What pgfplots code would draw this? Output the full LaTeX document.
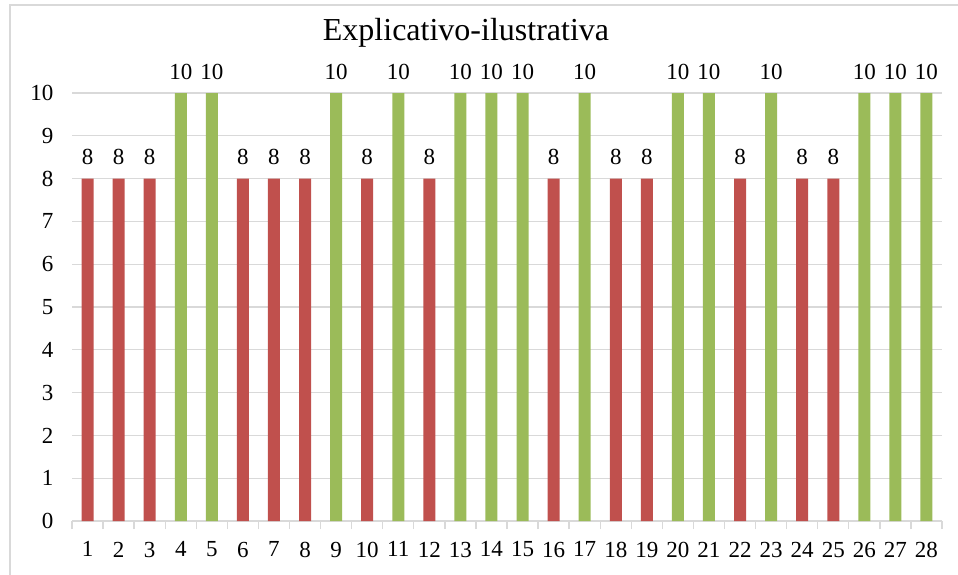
\documentclass[border=0pt]{standalone}
\usepackage{pgfplots}
\pgfplotsset{compat=1.18}
\usepackage{fontspec}
\setmainfont{Liberation Serif}
\definecolor{barred}{HTML}{C0504D}
\definecolor{bargreen}{HTML}{9BBB59}
\definecolor{gridgray}{HTML}{D9D9D9}
\begin{document}
\begin{tikzpicture}
\useasboundingbox (0,0) rectangle (958pt,-575pt);
\draw[gridgray, line width=1.3pt] (10pt,-575pt) -- (10pt,-5pt) -- (958pt,-5pt);
\node[anchor=base, font=\fontsize{32}{36}\selectfont] at (466pt,-41pt) {Explicativo-ilustrativa};
\begin{axis}[
  at={(72pt,-521pt)}, anchor=south west,
  scale only axis, width=870pt, height=428pt,
  xmin=0.5, xmax=28.5, ymin=0, ymax=10,
  ybar, bar width=12pt, bar shift=0pt,
  clip=false,
  axis y line*=left,
  y axis line style={draw=none},
  axis x line*=bottom,
  x axis line style={draw=gridgray, line width=1.3pt, -},
  ytick={0,...,10},
  major y tick style={draw=none},
  xtick={1,...,28},
  minor xtick={0.5,1.5,...,28.5},
  major x tick style={draw=none},
  minor x tick style={draw=gridgray, line width=1.3pt},
  minor tick length=8pt,
  xtick align=outside,
  ymajorgrids,
  major grid style={draw=gridgray, line width=1.3pt},
  tick label style={font=\fontsize{23}{27}\selectfont},
  /pgf/number format/assume math mode=true,
  yticklabel style={anchor=east, xshift=-15pt},
  xticklabel style={anchor=north, yshift=-13pt},
  nodes near coords,
  every node near coord/.append style={font=\fontsize{23}{27}\selectfont, yshift=10pt, black},
]
\addplot[fill=barred, draw=none] coordinates {
(1,8) (2,8) (3,8) (6,8) (7,8) (8,8) (10,8) (12,8) (16,8) (18,8) (19,8) (22,8) (24,8) (25,8)};
\addplot[fill=bargreen, draw=none] coordinates {
(4,10) (5,10) (9,10) (11,10) (13,10) (14,10) (15,10) (17,10) (20,10) (21,10) (23,10) (26,10) (27,10) (28,10)};
\end{axis}
\end{tikzpicture}
\end{document}
